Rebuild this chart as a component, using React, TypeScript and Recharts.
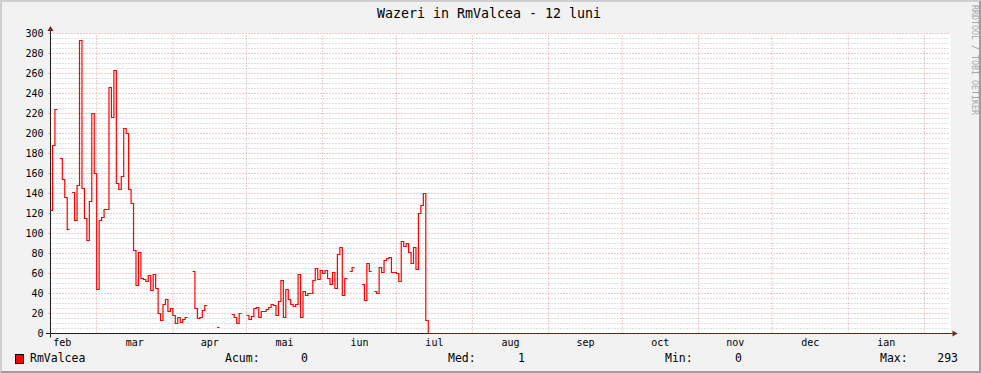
import React from 'react';
import { LineChart, Line, XAxis, YAxis, ReferenceLine, ReferenceArea } from 'recharts';

// ---- data (days counted from 1 March; value k covers day k .. k+1) ----
const FIRST_DAY = -19; // 10 Feb
const dailyWazeri: (number | null)[] = [
  123, 188, 224, null, 175, 154, 136, 104, null, 141,
  113, 148, 293, 145, 115, 93, 132, 220, 160, 44,
  113, 116, 124, 124, 246, 216, 263, 150, 144, 157,
  205, 200, 144, 130, 83, 48, 81, 55, 54, 52,
  58, 43, 59, 45, 20, 13, 29, 34, 22, 25,
  18, 10, 16, 11, 14, 16, null, null, 62, 25,
  15, 16, 23, 28, null, null, null, null, 6, null,
  null, null, null, null, 19, 16, 10, 20, null, null,
  18, 14, 17, 25, 26, 16, 22, 22, 24, 26,
  29, 28, 18, 32, 53, 16, 44, 34, 29, 27,
  29, 59, 16, 42, 38, 40, 40, 53, 65, 54,
  63, 60, 63, 55, 49, 61, 45, 79, 86, 38,
  55, null, 62, 66, null, null, null, 49, 33, 70,
  62, null, 42, 40, 66, 61, 73, 75, 76, 61,
  61, 60, 52, 92, 87, 90, 81, 70, 86, 64,
  120, 128, 140, 13, 0,
];

const monthStarts = [-28, 0, 31, 61, 92, 122, 153, 184, 214, 245, 275, 306, 337];
const monthLabels = ['feb', 'mar', 'apr', 'mai', 'iun', 'iul', 'aug', 'sep', 'oct', 'nov', 'dec', 'ian'];
const yLabelTicks = [0, 20, 40, 60, 80, 100, 120, 140, 160, 180, 200, 220, 240, 260, 280, 300];
const statLabels = ['Acum:', 'Med:', 'Min:', 'Max:'];
const statValues = ['0', '1', '0', '293'];
const seriesName = 'RmValcea';
const title = 'Wazeri in RmValcea - 12 luni';

const X_MIN = -18.81;
const X_MAX = 347.64;
const Y_MAX = 300;

// chart table built from the arrays above (rrdtool-like steps)
const chartData: { x: number; y: number | null }[] = [];
dailyWazeri.forEach((v, i) => {
  const x0 = FIRST_DAY + i;
  const x1 = i === dailyWazeri.length - 1 ? X_MAX : x0 + 1;
  if (v === null) chartData.push({ x: x0, y: null });
  else chartData.push({ x: x0, y: v }, { x: x1, y: v });
});

const monthCenters = monthLabels.map((_, i) => (monthStarts[i] + monthStarts[i + 1]) / 2);
const minorYTicks: number[] = [];
for (let v = 5; v < Y_MAX; v += 5) if (v % 20 !== 0) minorYTicks.push(v);

const MONO = '"DejaVu Sans Mono", monospace';
const GRID = 'rgba(143,143,143,0.55)';
const MGRID = 'rgba(222,80,80,0.6)';
const AXIS = '#1F1F1F';
const ARROW = '#801F1F';

export default function App() {
  return (
    <div style={{ position: 'absolute', left: 0, top: 0, width: 981, height: 373, background: '#F2F2F2', overflow: 'hidden', fontFamily: MONO }}>
      <div style={{ position: 'absolute', left: 0, top: 0 }}>
        <LineChart width={981} height={373} data={chartData} margin={{ top: 33.5, left: 0, right: 30.5, bottom: 0 }}>
          <XAxis
            type="number"
            dataKey="x"
            domain={[X_MIN, X_MAX]}
            allowDataOverflow
            ticks={monthCenters}
            interval={0}
            tickFormatter={(v: number) => monthLabels[monthCenters.indexOf(v)] ?? ''}
            axisLine={false}
            tickLine={false}
            tickSize={0}
            tickMargin={5.5}
            height={39.5}
            tick={{ fontSize: 10, fill: '#000', fontFamily: MONO }}
          />
          <YAxis
            type="number"
            domain={[0, Y_MAX]}
            allowDataOverflow
            ticks={yLabelTicks}
            interval={0}
            width={50.5}
            axisLine={false}
            tickLine={{ stroke: MGRID }}
            tickSize={2}
            tickMargin={5}
            tick={{ fontSize: 10, fill: '#000', fontFamily: MONO }}
          />
          <ReferenceArea x1={X_MIN} x2={X_MAX} y1={0} y2={Y_MAX} fill="#FFFFFF" fillOpacity={1} stroke="none" />
          {minorYTicks.map((v) => (
            <ReferenceLine key={'g' + v} y={v} stroke={GRID} strokeDasharray="1 2" />
          ))}
          {yLabelTicks.filter((v) => v > 0).map((v) => (
            <ReferenceLine key={'m' + v} y={v} stroke={MGRID} strokeDasharray="1 2" />
          ))}
          {monthStarts.filter((m) => m > X_MIN && m < X_MAX).map((m) => (
            <ReferenceLine key={'x' + m} x={m} stroke={MGRID} strokeDasharray="1 2" />
          ))}
          <ReferenceLine y={0} stroke={AXIS} />
          <ReferenceLine x={X_MIN} stroke={AXIS} />
          <Line
            type="linear"
            dataKey="y"
            stroke="#FF0000"
            strokeWidth={1.2}
            dot={false}
            connectNulls={false}
            isAnimationActive={false}
          />
        </LineChart>
      </div>
      <svg width={981} height={373} style={{ position: 'absolute', left: 0, top: 0, pointerEvents: 'none' }}>
        <line x1={46} y1={333.5} x2={50.5} y2={333.5} stroke={AXIS} />
        <line x1={950.5} y1={333.5} x2={953} y2={333.5} stroke={ARROW} />
        <line x1={50.5} y1={333.5} x2={50.5} y2={337.5} stroke={AXIS} />
        <line x1={50.5} y1={33.5} x2={50.5} y2={30} stroke={AXIS} />
        <polygon points="952.5,330.5 952.5,336.5 957.5,333.5" fill={ARROW} />
        <polygon points="47.5,31 53.5,31 50.5,26" fill={ARROW} />
        <text x={969.5} y={5} transform="rotate(90 969.5 5)" fontFamily={MONO} fontSize={8.3} fill="#A8A8A8" dominantBaseline="text-after-edge">RRDTOOL / TOBI OETIKER</text>
      </svg>
      <div style={{ position: 'absolute', left: 0, top: 5, width: 978, textAlign: 'center', fontSize: 13.3, lineHeight: '18px', color: '#000', whiteSpace: 'pre' }}>{title}</div>
      <div style={{ position: 'absolute', left: 15, top: 354, width: 7, height: 8, background: '#FF0000', border: '1px solid #000' }} />
      <div style={{ position: 'absolute', left: 30, top: 351, fontSize: 11.5, lineHeight: '15px', color: '#000', whiteSpace: 'pre' }}>{seriesName}</div>
      {statLabels.map((lab, i) => {
        const lefts = [225, 448, 665, 880];
        const rights = [308, 525, 742, 958];
        return (
          <React.Fragment key={lab}>
            <div style={{ position: 'absolute', left: lefts[i], top: 351, fontSize: 11.5, lineHeight: '15px', color: '#000', whiteSpace: 'pre' }}>{lab}</div>
            <div style={{ position: 'absolute', left: rights[i] - 60, width: 60, top: 351, textAlign: 'right', fontSize: 11.5, lineHeight: '15px', color: '#000', whiteSpace: 'pre' }}>{statValues[i]}</div>
          </React.Fragment>
        );
      })}
      <div style={{ position: 'absolute', left: 0, top: 0, width: 981, height: 373, boxSizing: 'border-box', borderTop: '2px solid #CFCFCF', borderLeft: '2px solid #CFCFCF', borderRight: '2px solid #9E9E9E', borderBottom: '2px solid #9E9E9E', pointerEvents: 'none' }} />
    </div>
  );
}
